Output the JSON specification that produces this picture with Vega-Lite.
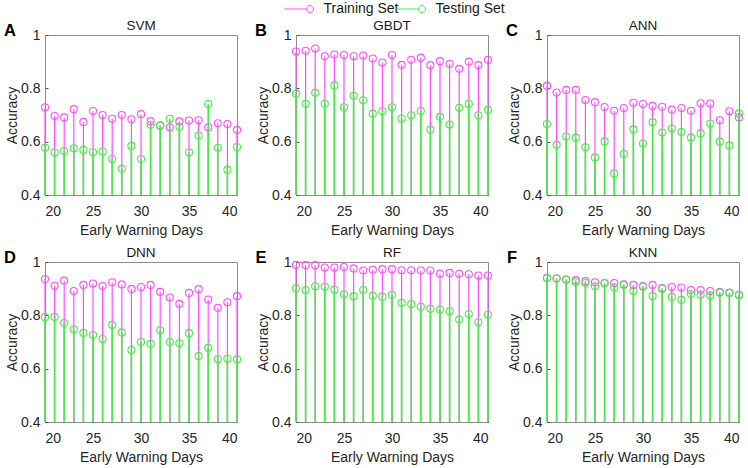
{
"$schema": "https://vega.github.io/schema/vega-lite/v6.json",
"padding": {"left": 3, "top": 2, "right": 2, "bottom": 2},
"datasets": {
"acc": [
{"model":"SVM","set":"Training Set","day":20,"acc":0.729},{"model":"SVM","set":"Training Set","day":21,"acc":0.696},{"model":"SVM","set":"Training Set","day":22,"acc":0.691},{"model":"SVM","set":"Training Set","day":23,"acc":0.722},{"model":"SVM","set":"Training Set","day":24,"acc":0.674},{"model":"SVM","set":"Training Set","day":25,"acc":0.715},{"model":"SVM","set":"Training Set","day":26,"acc":0.700},{"model":"SVM","set":"Training Set","day":27,"acc":0.686},{"model":"SVM","set":"Training Set","day":28,"acc":0.700},{"model":"SVM","set":"Training Set","day":29,"acc":0.684},{"model":"SVM","set":"Training Set","day":30,"acc":0.703},{"model":"SVM","set":"Training Set","day":31,"acc":0.677},{"model":"SVM","set":"Training Set","day":32,"acc":0.660},{"model":"SVM","set":"Training Set","day":33,"acc":0.654},{"model":"SVM","set":"Training Set","day":34,"acc":0.676},{"model":"SVM","set":"Training Set","day":35,"acc":0.679},{"model":"SVM","set":"Training Set","day":36,"acc":0.680},{"model":"SVM","set":"Training Set","day":37,"acc":0.654},{"model":"SVM","set":"Training Set","day":38,"acc":0.669},{"model":"SVM","set":"Training Set","day":39,"acc":0.666},{"model":"SVM","set":"Training Set","day":40,"acc":0.644},
{"model":"GBDT","set":"Training Set","day":20,"acc":0.938},{"model":"GBDT","set":"Training Set","day":21,"acc":0.941},{"model":"GBDT","set":"Training Set","day":22,"acc":0.949},{"model":"GBDT","set":"Training Set","day":23,"acc":0.920},{"model":"GBDT","set":"Training Set","day":24,"acc":0.927},{"model":"GBDT","set":"Training Set","day":25,"acc":0.925},{"model":"GBDT","set":"Training Set","day":26,"acc":0.920},{"model":"GBDT","set":"Training Set","day":27,"acc":0.923},{"model":"GBDT","set":"Training Set","day":28,"acc":0.912},{"model":"GBDT","set":"Training Set","day":29,"acc":0.897},{"model":"GBDT","set":"Training Set","day":30,"acc":0.925},{"model":"GBDT","set":"Training Set","day":31,"acc":0.888},{"model":"GBDT","set":"Training Set","day":32,"acc":0.907},{"model":"GBDT","set":"Training Set","day":33,"acc":0.915},{"model":"GBDT","set":"Training Set","day":34,"acc":0.887},{"model":"GBDT","set":"Training Set","day":35,"acc":0.902},{"model":"GBDT","set":"Training Set","day":36,"acc":0.892},{"model":"GBDT","set":"Training Set","day":37,"acc":0.873},{"model":"GBDT","set":"Training Set","day":38,"acc":0.900},{"model":"GBDT","set":"Training Set","day":39,"acc":0.887},{"model":"GBDT","set":"Training Set","day":40,"acc":0.907},
{"model":"ANN","set":"Training Set","day":20,"acc":0.809},{"model":"ANN","set":"Training Set","day":21,"acc":0.784},{"model":"ANN","set":"Training Set","day":22,"acc":0.794},{"model":"ANN","set":"Training Set","day":23,"acc":0.794},{"model":"ANN","set":"Training Set","day":24,"acc":0.756},{"model":"ANN","set":"Training Set","day":25,"acc":0.748},{"model":"ANN","set":"Training Set","day":26,"acc":0.730},{"model":"ANN","set":"Training Set","day":27,"acc":0.716},{"model":"ANN","set":"Training Set","day":28,"acc":0.726},{"model":"ANN","set":"Training Set","day":29,"acc":0.746},{"model":"ANN","set":"Training Set","day":30,"acc":0.741},{"model":"ANN","set":"Training Set","day":31,"acc":0.734},{"model":"ANN","set":"Training Set","day":32,"acc":0.731},{"model":"ANN","set":"Training Set","day":33,"acc":0.720},{"model":"ANN","set":"Training Set","day":34,"acc":0.726},{"model":"ANN","set":"Training Set","day":35,"acc":0.716},{"model":"ANN","set":"Training Set","day":36,"acc":0.744},{"model":"ANN","set":"Training Set","day":37,"acc":0.743},{"model":"ANN","set":"Training Set","day":38,"acc":0.680},{"model":"ANN","set":"Training Set","day":39,"acc":0.714},{"model":"ANN","set":"Training Set","day":40,"acc":0.691},
{"model":"DNN","set":"Training Set","day":20,"acc":0.936},{"model":"DNN","set":"Training Set","day":21,"acc":0.911},{"model":"DNN","set":"Training Set","day":22,"acc":0.930},{"model":"DNN","set":"Training Set","day":23,"acc":0.891},{"model":"DNN","set":"Training Set","day":24,"acc":0.914},{"model":"DNN","set":"Training Set","day":25,"acc":0.919},{"model":"DNN","set":"Training Set","day":26,"acc":0.910},{"model":"DNN","set":"Training Set","day":27,"acc":0.924},{"model":"DNN","set":"Training Set","day":28,"acc":0.916},{"model":"DNN","set":"Training Set","day":29,"acc":0.899},{"model":"DNN","set":"Training Set","day":30,"acc":0.906},{"model":"DNN","set":"Training Set","day":31,"acc":0.914},{"model":"DNN","set":"Training Set","day":32,"acc":0.888},{"model":"DNN","set":"Training Set","day":33,"acc":0.867},{"model":"DNN","set":"Training Set","day":34,"acc":0.843},{"model":"DNN","set":"Training Set","day":35,"acc":0.884},{"model":"DNN","set":"Training Set","day":36,"acc":0.898},{"model":"DNN","set":"Training Set","day":37,"acc":0.859},{"model":"DNN","set":"Training Set","day":38,"acc":0.828},{"model":"DNN","set":"Training Set","day":39,"acc":0.849},{"model":"DNN","set":"Training Set","day":40,"acc":0.872},
{"model":"RF","set":"Training Set","day":20,"acc":0.989},{"model":"RF","set":"Training Set","day":21,"acc":0.988},{"model":"RF","set":"Training Set","day":22,"acc":0.988},{"model":"RF","set":"Training Set","day":23,"acc":0.979},{"model":"RF","set":"Training Set","day":24,"acc":0.979},{"model":"RF","set":"Training Set","day":25,"acc":0.981},{"model":"RF","set":"Training Set","day":26,"acc":0.976},{"model":"RF","set":"Training Set","day":27,"acc":0.968},{"model":"RF","set":"Training Set","day":28,"acc":0.971},{"model":"RF","set":"Training Set","day":29,"acc":0.973},{"model":"RF","set":"Training Set","day":30,"acc":0.973},{"model":"RF","set":"Training Set","day":31,"acc":0.969},{"model":"RF","set":"Training Set","day":32,"acc":0.969},{"model":"RF","set":"Training Set","day":33,"acc":0.968},{"model":"RF","set":"Training Set","day":34,"acc":0.968},{"model":"RF","set":"Training Set","day":35,"acc":0.956},{"model":"RF","set":"Training Set","day":36,"acc":0.959},{"model":"RF","set":"Training Set","day":37,"acc":0.956},{"model":"RF","set":"Training Set","day":38,"acc":0.954},{"model":"RF","set":"Training Set","day":39,"acc":0.949},{"model":"RF","set":"Training Set","day":40,"acc":0.949},
{"model":"KNN","set":"Training Set","day":20,"acc":0.940},{"model":"KNN","set":"Training Set","day":21,"acc":0.938},{"model":"KNN","set":"Training Set","day":22,"acc":0.934},{"model":"KNN","set":"Training Set","day":23,"acc":0.932},{"model":"KNN","set":"Training Set","day":24,"acc":0.928},{"model":"KNN","set":"Training Set","day":25,"acc":0.924},{"model":"KNN","set":"Training Set","day":26,"acc":0.921},{"model":"KNN","set":"Training Set","day":27,"acc":0.921},{"model":"KNN","set":"Training Set","day":28,"acc":0.916},{"model":"KNN","set":"Training Set","day":29,"acc":0.914},{"model":"KNN","set":"Training Set","day":30,"acc":0.910},{"model":"KNN","set":"Training Set","day":31,"acc":0.914},{"model":"KNN","set":"Training Set","day":32,"acc":0.902},{"model":"KNN","set":"Training Set","day":33,"acc":0.906},{"model":"KNN","set":"Training Set","day":34,"acc":0.904},{"model":"KNN","set":"Training Set","day":35,"acc":0.895},{"model":"KNN","set":"Training Set","day":36,"acc":0.895},{"model":"KNN","set":"Training Set","day":37,"acc":0.891},{"model":"KNN","set":"Training Set","day":38,"acc":0.887},{"model":"KNN","set":"Training Set","day":39,"acc":0.885},{"model":"KNN","set":"Training Set","day":40,"acc":0.877},
{"model":"SVM","set":"Testing Set","day":20,"acc":0.577},{"model":"SVM","set":"Testing Set","day":21,"acc":0.559},{"model":"SVM","set":"Testing Set","day":22,"acc":0.565},{"model":"SVM","set":"Testing Set","day":23,"acc":0.575},{"model":"SVM","set":"Testing Set","day":24,"acc":0.569},{"model":"SVM","set":"Testing Set","day":25,"acc":0.560},{"model":"SVM","set":"Testing Set","day":26,"acc":0.563},{"model":"SVM","set":"Testing Set","day":27,"acc":0.535},{"model":"SVM","set":"Testing Set","day":28,"acc":0.498},{"model":"SVM","set":"Testing Set","day":29,"acc":0.584},{"model":"SVM","set":"Testing Set","day":30,"acc":0.535},{"model":"SVM","set":"Testing Set","day":31,"acc":0.663},{"model":"SVM","set":"Testing Set","day":32,"acc":0.661},{"model":"SVM","set":"Testing Set","day":33,"acc":0.686},{"model":"SVM","set":"Testing Set","day":34,"acc":0.656},{"model":"SVM","set":"Testing Set","day":35,"acc":0.559},{"model":"SVM","set":"Testing Set","day":36,"acc":0.623},{"model":"SVM","set":"Testing Set","day":37,"acc":0.741},{"model":"SVM","set":"Testing Set","day":38,"acc":0.577},{"model":"SVM","set":"Testing Set","day":39,"acc":0.495},{"model":"SVM","set":"Testing Set","day":40,"acc":0.580},
{"model":"GBDT","set":"Testing Set","day":20,"acc":0.780},{"model":"GBDT","set":"Testing Set","day":21,"acc":0.742},{"model":"GBDT","set":"Testing Set","day":22,"acc":0.783},{"model":"GBDT","set":"Testing Set","day":23,"acc":0.742},{"model":"GBDT","set":"Testing Set","day":24,"acc":0.811},{"model":"GBDT","set":"Testing Set","day":25,"acc":0.729},{"model":"GBDT","set":"Testing Set","day":26,"acc":0.772},{"model":"GBDT","set":"Testing Set","day":27,"acc":0.755},{"model":"GBDT","set":"Testing Set","day":28,"acc":0.705},{"model":"GBDT","set":"Testing Set","day":29,"acc":0.714},{"model":"GBDT","set":"Testing Set","day":30,"acc":0.729},{"model":"GBDT","set":"Testing Set","day":31,"acc":0.687},{"model":"GBDT","set":"Testing Set","day":32,"acc":0.699},{"model":"GBDT","set":"Testing Set","day":33,"acc":0.715},{"model":"GBDT","set":"Testing Set","day":34,"acc":0.645},{"model":"GBDT","set":"Testing Set","day":35,"acc":0.693},{"model":"GBDT","set":"Testing Set","day":36,"acc":0.664},{"model":"GBDT","set":"Testing Set","day":37,"acc":0.727},{"model":"GBDT","set":"Testing Set","day":38,"acc":0.741},{"model":"GBDT","set":"Testing Set","day":39,"acc":0.699},{"model":"GBDT","set":"Testing Set","day":40,"acc":0.719},
{"model":"ANN","set":"Testing Set","day":20,"acc":0.666},{"model":"ANN","set":"Testing Set","day":21,"acc":0.588},{"model":"ANN","set":"Testing Set","day":22,"acc":0.619},{"model":"ANN","set":"Testing Set","day":23,"acc":0.615},{"model":"ANN","set":"Testing Set","day":24,"acc":0.579},{"model":"ANN","set":"Testing Set","day":25,"acc":0.541},{"model":"ANN","set":"Testing Set","day":26,"acc":0.601},{"model":"ANN","set":"Testing Set","day":27,"acc":0.481},{"model":"ANN","set":"Testing Set","day":28,"acc":0.554},{"model":"ANN","set":"Testing Set","day":29,"acc":0.646},{"model":"ANN","set":"Testing Set","day":30,"acc":0.593},{"model":"ANN","set":"Testing Set","day":31,"acc":0.673},{"model":"ANN","set":"Testing Set","day":32,"acc":0.634},{"model":"ANN","set":"Testing Set","day":33,"acc":0.649},{"model":"ANN","set":"Testing Set","day":34,"acc":0.636},{"model":"ANN","set":"Testing Set","day":35,"acc":0.616},{"model":"ANN","set":"Testing Set","day":36,"acc":0.631},{"model":"ANN","set":"Testing Set","day":37,"acc":0.668},{"model":"ANN","set":"Testing Set","day":38,"acc":0.600},{"model":"ANN","set":"Testing Set","day":39,"acc":0.586},{"model":"ANN","set":"Testing Set","day":40,"acc":0.706},
{"model":"DNN","set":"Testing Set","day":20,"acc":0.793},{"model":"DNN","set":"Testing Set","day":21,"acc":0.794},{"model":"DNN","set":"Testing Set","day":22,"acc":0.771},{"model":"DNN","set":"Testing Set","day":23,"acc":0.747},{"model":"DNN","set":"Testing Set","day":24,"acc":0.734},{"model":"DNN","set":"Testing Set","day":25,"acc":0.726},{"model":"DNN","set":"Testing Set","day":26,"acc":0.711},{"model":"DNN","set":"Testing Set","day":27,"acc":0.764},{"model":"DNN","set":"Testing Set","day":28,"acc":0.736},{"model":"DNN","set":"Testing Set","day":29,"acc":0.670},{"model":"DNN","set":"Testing Set","day":30,"acc":0.700},{"model":"DNN","set":"Testing Set","day":31,"acc":0.693},{"model":"DNN","set":"Testing Set","day":32,"acc":0.744},{"model":"DNN","set":"Testing Set","day":33,"acc":0.700},{"model":"DNN","set":"Testing Set","day":34,"acc":0.695},{"model":"DNN","set":"Testing Set","day":35,"acc":0.733},{"model":"DNN","set":"Testing Set","day":36,"acc":0.647},{"model":"DNN","set":"Testing Set","day":37,"acc":0.678},{"model":"DNN","set":"Testing Set","day":38,"acc":0.635},{"model":"DNN","set":"Testing Set","day":39,"acc":0.637},{"model":"DNN","set":"Testing Set","day":40,"acc":0.635},
{"model":"RF","set":"Testing Set","day":20,"acc":0.901},{"model":"RF","set":"Testing Set","day":21,"acc":0.895},{"model":"RF","set":"Testing Set","day":22,"acc":0.909},{"model":"RF","set":"Testing Set","day":23,"acc":0.907},{"model":"RF","set":"Testing Set","day":24,"acc":0.896},{"model":"RF","set":"Testing Set","day":25,"acc":0.879},{"model":"RF","set":"Testing Set","day":26,"acc":0.872},{"model":"RF","set":"Testing Set","day":27,"acc":0.895},{"model":"RF","set":"Testing Set","day":28,"acc":0.873},{"model":"RF","set":"Testing Set","day":29,"acc":0.870},{"model":"RF","set":"Testing Set","day":30,"acc":0.877},{"model":"RF","set":"Testing Set","day":31,"acc":0.847},{"model":"RF","set":"Testing Set","day":32,"acc":0.842},{"model":"RF","set":"Testing Set","day":33,"acc":0.832},{"model":"RF","set":"Testing Set","day":34,"acc":0.825},{"model":"RF","set":"Testing Set","day":35,"acc":0.822},{"model":"RF","set":"Testing Set","day":36,"acc":0.815},{"model":"RF","set":"Testing Set","day":37,"acc":0.784},{"model":"RF","set":"Testing Set","day":38,"acc":0.805},{"model":"RF","set":"Testing Set","day":39,"acc":0.774},{"model":"RF","set":"Testing Set","day":40,"acc":0.802},
{"model":"KNN","set":"Testing Set","day":20,"acc":0.940},{"model":"KNN","set":"Testing Set","day":21,"acc":0.938},{"model":"KNN","set":"Testing Set","day":22,"acc":0.934},{"model":"KNN","set":"Testing Set","day":23,"acc":0.925},{"model":"KNN","set":"Testing Set","day":24,"acc":0.921},{"model":"KNN","set":"Testing Set","day":25,"acc":0.909},{"model":"KNN","set":"Testing Set","day":26,"acc":0.920},{"model":"KNN","set":"Testing Set","day":27,"acc":0.904},{"model":"KNN","set":"Testing Set","day":28,"acc":0.914},{"model":"KNN","set":"Testing Set","day":29,"acc":0.891},{"model":"KNN","set":"Testing Set","day":30,"acc":0.907},{"model":"KNN","set":"Testing Set","day":31,"acc":0.872},{"model":"KNN","set":"Testing Set","day":32,"acc":0.900},{"model":"KNN","set":"Testing Set","day":33,"acc":0.869},{"model":"KNN","set":"Testing Set","day":34,"acc":0.858},{"model":"KNN","set":"Testing Set","day":35,"acc":0.880},{"model":"KNN","set":"Testing Set","day":36,"acc":0.877},{"model":"KNN","set":"Testing Set","day":37,"acc":0.874},{"model":"KNN","set":"Testing Set","day":38,"acc":0.885},{"model":"KNN","set":"Testing Set","day":39,"acc":0.884},{"model":"KNN","set":"Testing Set","day":40,"acc":0.875}
]
},
"columns": 3,
"spacing": {"row": 67, "column": 59},
"bounds": "flush",
"concat": [
{"width": 192, "height": 160, "data": {"name": "acc"}, "transform": [{"filter": "datum.model == 'SVM'"}],
 "encoding": {"x": {"field": "day", "type": "quantitative", "scale": {"domain": [20, 40], "nice": false, "zero": false, "padding": 0}, "axis": {"values": [20, 25, 30, 35, 40], "title": "Early Warning Days"}}, "y": {"field": "acc", "type": "quantitative", "scale": {"domain": [0.4, 1], "nice": false, "zero": false}, "axis": {"values": [0.4, 0.6, 0.8, 1], "format": ".1~f", "title": "Accuracy"}}, "color": {"field": "set", "type": "nominal", "scale": {"domain": ["Training Set", "Testing Set"], "range": ["#ff4dff", "#47eb47"]}, "legend": {"labelOffset": 6.5, "columnPadding": -5, "legendX": 258, "legendY": -33}}},
 "layer": [
  {"mark": {"type": "rule"}, "encoding": {"y2": {"datum": 0.4}, "strokeWidth": {"condition": {"test": "datum.set == 'Testing Set'", "value": 1.7}, "value": 1.2}}},
  {"mark": {"type": "point", "shape": "circle", "size": 50, "strokeWidth": 1.1, "filled": false, "opacity": 1}},
  {"transform": [{"filter": "datum.day == 20 && datum.set == 'Training Set'"}], "mark": {"type": "text", "dx": -35, "dy": 1, "align": "center", "baseline": "alphabetic", "fontSize": 16.5, "fontWeight": "bold", "font": "Liberation Sans"}, "encoding": {"y": {"datum": 1}, "text": {"value": "A"}, "color": {"value": "black"}}},
  {"transform": [{"filter": "datum.day == 20 && datum.set == 'Training Set'"}], "mark": {"type": "text", "dy": -5, "align": "center", "baseline": "alphabetic", "fontSize": 13.5, "font": "Liberation Sans"}, "encoding": {"x": {"datum": 30}, "y": {"datum": 1}, "text": {"field": "model"}, "color": {"value": "#1a1a1a"}}}
 ]},
{"width": 192, "height": 160, "data": {"name": "acc"}, "transform": [{"filter": "datum.model == 'GBDT'"}],
 "encoding": {"x": {"field": "day", "type": "quantitative", "scale": {"domain": [20, 40], "nice": false, "zero": false, "padding": 0}, "axis": {"values": [20, 25, 30, 35, 40], "title": "Early Warning Days"}}, "y": {"field": "acc", "type": "quantitative", "scale": {"domain": [0.4, 1], "nice": false, "zero": false}, "axis": {"values": [0.4, 0.6, 0.8, 1], "format": ".1~f", "title": "Accuracy"}}, "color": {"field": "set", "type": "nominal", "scale": {"domain": ["Training Set", "Testing Set"], "range": ["#ff4dff", "#47eb47"]}}},
 "layer": [
  {"mark": {"type": "rule"}, "encoding": {"y2": {"datum": 0.4}, "strokeWidth": {"condition": {"test": "datum.set == 'Testing Set'", "value": 1.7}, "value": 1.2}}},
  {"mark": {"type": "point", "shape": "circle", "size": 50, "strokeWidth": 1.1, "filled": false, "opacity": 1}},
  {"transform": [{"filter": "datum.day == 20 && datum.set == 'Training Set'"}], "mark": {"type": "text", "dx": -35, "dy": 1, "align": "center", "baseline": "alphabetic", "fontSize": 16.5, "fontWeight": "bold", "font": "Liberation Sans"}, "encoding": {"y": {"datum": 1}, "text": {"value": "B"}, "color": {"value": "black"}}},
  {"transform": [{"filter": "datum.day == 20 && datum.set == 'Training Set'"}], "mark": {"type": "text", "dy": -5, "align": "center", "baseline": "alphabetic", "fontSize": 13.5, "font": "Liberation Sans"}, "encoding": {"x": {"datum": 30}, "y": {"datum": 1}, "text": {"field": "model"}, "color": {"value": "#1a1a1a"}}}
 ]},
{"width": 192, "height": 160, "data": {"name": "acc"}, "transform": [{"filter": "datum.model == 'ANN'"}],
 "encoding": {"x": {"field": "day", "type": "quantitative", "scale": {"domain": [20, 40], "nice": false, "zero": false, "padding": 0}, "axis": {"values": [20, 25, 30, 35, 40], "title": "Early Warning Days"}}, "y": {"field": "acc", "type": "quantitative", "scale": {"domain": [0.4, 1], "nice": false, "zero": false}, "axis": {"values": [0.4, 0.6, 0.8, 1], "format": ".1~f", "title": "Accuracy"}}, "color": {"field": "set", "type": "nominal", "scale": {"domain": ["Training Set", "Testing Set"], "range": ["#ff4dff", "#47eb47"]}}},
 "layer": [
  {"mark": {"type": "rule"}, "encoding": {"y2": {"datum": 0.4}, "strokeWidth": {"condition": {"test": "datum.set == 'Testing Set'", "value": 1.7}, "value": 1.2}}},
  {"mark": {"type": "point", "shape": "circle", "size": 50, "strokeWidth": 1.1, "filled": false, "opacity": 1}},
  {"transform": [{"filter": "datum.day == 20 && datum.set == 'Training Set'"}], "mark": {"type": "text", "dx": -35, "dy": 1, "align": "center", "baseline": "alphabetic", "fontSize": 16.5, "fontWeight": "bold", "font": "Liberation Sans"}, "encoding": {"y": {"datum": 1}, "text": {"value": "C"}, "color": {"value": "black"}}},
  {"transform": [{"filter": "datum.day == 20 && datum.set == 'Training Set'"}], "mark": {"type": "text", "dy": -5, "align": "center", "baseline": "alphabetic", "fontSize": 13.5, "font": "Liberation Sans"}, "encoding": {"x": {"datum": 30}, "y": {"datum": 1}, "text": {"field": "model"}, "color": {"value": "#1a1a1a"}}}
 ]},
{"width": 192, "height": 160, "data": {"name": "acc"}, "transform": [{"filter": "datum.model == 'DNN'"}],
 "encoding": {"x": {"field": "day", "type": "quantitative", "scale": {"domain": [20, 40], "nice": false, "zero": false, "padding": 0}, "axis": {"values": [20, 25, 30, 35, 40], "title": "Early Warning Days"}}, "y": {"field": "acc", "type": "quantitative", "scale": {"domain": [0.4, 1], "nice": false, "zero": false}, "axis": {"values": [0.4, 0.6, 0.8, 1], "format": ".1~f", "title": "Accuracy"}}, "color": {"field": "set", "type": "nominal", "scale": {"domain": ["Training Set", "Testing Set"], "range": ["#ff4dff", "#47eb47"]}}},
 "layer": [
  {"mark": {"type": "rule"}, "encoding": {"y2": {"datum": 0.4}, "strokeWidth": {"condition": {"test": "datum.set == 'Testing Set'", "value": 1.7}, "value": 1.2}}},
  {"mark": {"type": "point", "shape": "circle", "size": 50, "strokeWidth": 1.1, "filled": false, "opacity": 1}},
  {"transform": [{"filter": "datum.day == 20 && datum.set == 'Training Set'"}], "mark": {"type": "text", "dx": -35, "dy": 1, "align": "center", "baseline": "alphabetic", "fontSize": 16.5, "fontWeight": "bold", "font": "Liberation Sans"}, "encoding": {"y": {"datum": 1}, "text": {"value": "D"}, "color": {"value": "black"}}},
  {"transform": [{"filter": "datum.day == 20 && datum.set == 'Training Set'"}], "mark": {"type": "text", "dy": -5, "align": "center", "baseline": "alphabetic", "fontSize": 13.5, "font": "Liberation Sans"}, "encoding": {"x": {"datum": 30}, "y": {"datum": 1}, "text": {"field": "model"}, "color": {"value": "#1a1a1a"}}}
 ]},
{"width": 192, "height": 160, "data": {"name": "acc"}, "transform": [{"filter": "datum.model == 'RF'"}],
 "encoding": {"x": {"field": "day", "type": "quantitative", "scale": {"domain": [20, 40], "nice": false, "zero": false, "padding": 0}, "axis": {"values": [20, 25, 30, 35, 40], "title": "Early Warning Days"}}, "y": {"field": "acc", "type": "quantitative", "scale": {"domain": [0.4, 1], "nice": false, "zero": false}, "axis": {"values": [0.4, 0.6, 0.8, 1], "format": ".1~f", "title": "Accuracy"}}, "color": {"field": "set", "type": "nominal", "scale": {"domain": ["Training Set", "Testing Set"], "range": ["#ff4dff", "#47eb47"]}}},
 "layer": [
  {"mark": {"type": "rule"}, "encoding": {"y2": {"datum": 0.4}, "strokeWidth": {"condition": {"test": "datum.set == 'Testing Set'", "value": 1.7}, "value": 1.2}}},
  {"mark": {"type": "point", "shape": "circle", "size": 50, "strokeWidth": 1.1, "filled": false, "opacity": 1}},
  {"transform": [{"filter": "datum.day == 20 && datum.set == 'Training Set'"}], "mark": {"type": "text", "dx": -35, "dy": 1, "align": "center", "baseline": "alphabetic", "fontSize": 16.5, "fontWeight": "bold", "font": "Liberation Sans"}, "encoding": {"y": {"datum": 1}, "text": {"value": "E"}, "color": {"value": "black"}}},
  {"transform": [{"filter": "datum.day == 20 && datum.set == 'Training Set'"}], "mark": {"type": "text", "dy": -5, "align": "center", "baseline": "alphabetic", "fontSize": 13.5, "font": "Liberation Sans"}, "encoding": {"x": {"datum": 30}, "y": {"datum": 1}, "text": {"field": "model"}, "color": {"value": "#1a1a1a"}}}
 ]},
{"width": 192, "height": 160, "data": {"name": "acc"}, "transform": [{"filter": "datum.model == 'KNN'"}],
 "encoding": {"x": {"field": "day", "type": "quantitative", "scale": {"domain": [20, 40], "nice": false, "zero": false, "padding": 0}, "axis": {"values": [20, 25, 30, 35, 40], "title": "Early Warning Days"}}, "y": {"field": "acc", "type": "quantitative", "scale": {"domain": [0.4, 1], "nice": false, "zero": false}, "axis": {"values": [0.4, 0.6, 0.8, 1], "format": ".1~f", "title": "Accuracy"}}, "color": {"field": "set", "type": "nominal", "scale": {"domain": ["Training Set", "Testing Set"], "range": ["#ff4dff", "#47eb47"]}}},
 "layer": [
  {"mark": {"type": "rule"}, "encoding": {"y2": {"datum": 0.4}, "strokeWidth": {"condition": {"test": "datum.set == 'Testing Set'", "value": 1.7}, "value": 1.2}}},
  {"mark": {"type": "point", "shape": "circle", "size": 50, "strokeWidth": 1.1, "filled": false, "opacity": 1}},
  {"transform": [{"filter": "datum.day == 20 && datum.set == 'Training Set'"}], "mark": {"type": "text", "dx": -35, "dy": 1, "align": "center", "baseline": "alphabetic", "fontSize": 16.5, "fontWeight": "bold", "font": "Liberation Sans"}, "encoding": {"y": {"datum": 1}, "text": {"value": "F"}, "color": {"value": "black"}}},
  {"transform": [{"filter": "datum.day == 20 && datum.set == 'Training Set'"}], "mark": {"type": "text", "dy": -5, "align": "center", "baseline": "alphabetic", "fontSize": 13.5, "font": "Liberation Sans"}, "encoding": {"x": {"datum": 30}, "y": {"datum": 1}, "text": {"field": "model"}, "color": {"value": "#1a1a1a"}}}
 ]}
],
"config": {
 "font": "Liberation Sans",
 "view": {"stroke": "#8c8c8c", "strokeWidth": 1},
 "axis": {"grid": false, "domain": false, "tickColor": "#555555", "tickSize": -3, "labelFont": "Liberation Sans", "labelFontSize": 14, "labelColor": "#262626", "titleFont": "Liberation Sans", "titleFontSize": 14, "titleFontWeight": "normal", "titleColor": "#262626"},
 "axisX": {"labelPadding": 12, "titlePadding": 5},
 "axisY": {"labelPadding": 8, "titlePadding": 1},
 "legend": {"orient": "none", "direction": "horizontal", "title": null, "symbolType": "M-7.3,0H-1M1,0A1,1 0 1,1 -1,0A1,1 0 1,1 1,0", "symbolSize": 49, "symbolStrokeWidth": 1, "labelFontSize": 14, "labelFont": "Liberation Sans", "labelColor": "#1a1a1a"}
}
}
